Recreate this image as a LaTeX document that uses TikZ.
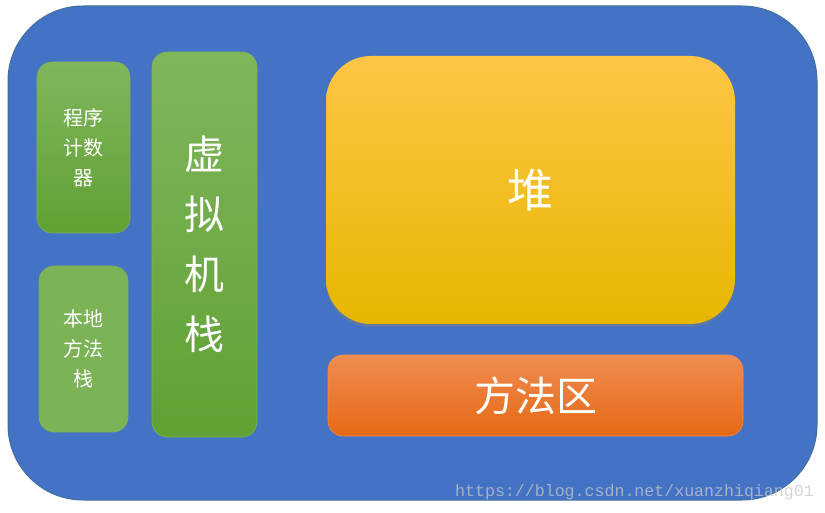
\documentclass[tikz,border=0pt]{standalone}
\usepackage{fontspec}
\newfontfamily\cjk{Noto Sans CJK SC}
\setmonofont{Liberation Mono}
\usetikzlibrary{shadows}
\definecolor{outerblue}{HTML}{4472C4}
\definecolor{outerline}{HTML}{41719C}
\definecolor{gtop}{HTML}{80B65C}
\definecolor{gbot}{HTML}{5FA133}
\definecolor{gline}{HTML}{7DB05A}
\definecolor{ytop}{HTML}{FFC546}
\definecolor{ymid}{HTML}{FFC600}
\definecolor{ybot}{HTML}{E5B700}
\definecolor{otop}{HTML}{F08C52}
\definecolor{omid}{HTML}{F27A28}
\definecolor{obot}{HTML}{E56914}
\tikzset{
  greenbox/.style={rectangle, rounded corners=15pt, top color=gtop, bottom color=gbot, draw=gline, line width=0.6pt, text=white, align=center, inner sep=0pt},
  smalltext/.style={font=\cjk\fontsize{20}{30}\selectfont},
  bigtext/.style={font=\cjk\fontsize{40}{60}\selectfont},
}
\begin{document}
\begin{tikzpicture}[x=1pt,y=1pt]
\useasboundingbox (0,0) rectangle (825,512);
\fill[white] (0,0) rectangle (825,512);
\node[rectangle, rounded corners=75pt, fill=outerblue, draw=outerline, line width=1pt, minimum width=809pt, minimum height=494pt, inner sep=0pt] (outer) at (412.5,259) {};
\node[greenbox, smalltext, minimum width=93pt, minimum height=171pt] (pc) at (83.5,364.5) {程序\\计数\\器};
\node[greenbox, smalltext, minimum width=89pt, minimum height=166pt, top color=gtop!85!gbot, bottom color=gtop!85!gbot] (native) at (83.5,163) {本地\\方法\\栈};
\node[greenbox, bigtext, minimum width=105pt, minimum height=385pt] (vm) at (204.5,267.5) {虚\\拟\\机\\栈};
\node[rectangle, rounded corners=45pt, top color=ytop, middle color=ymid, bottom color=ybot, drop shadow={opacity=0.45, shadow xshift=0pt, shadow yshift=-3pt}, minimum width=409pt, minimum height=268pt, inner sep=0pt, text=white, font=\cjk\fontsize{46}{50}\selectfont] (heap) at (530.5,322) {堆};
\node[rectangle, rounded corners=15pt, top color=otop, middle color=omid, bottom color=obot, draw=otop, line width=0.6pt, minimum width=415pt, minimum height=81pt, inner sep=0pt, text=white, font=\cjk\fontsize{41}{45}\selectfont] (method) at (535.5,116.5) {方法区};
\node[anchor=east, inner sep=0pt, text=black!22, opacity=0.75, font=\ttfamily\fontsize{16.6}{18}\selectfont] (wm) at (814,20) {https://blog.csdn.net/xuanzhiqiang01};
\end{tikzpicture}
\end{document}
